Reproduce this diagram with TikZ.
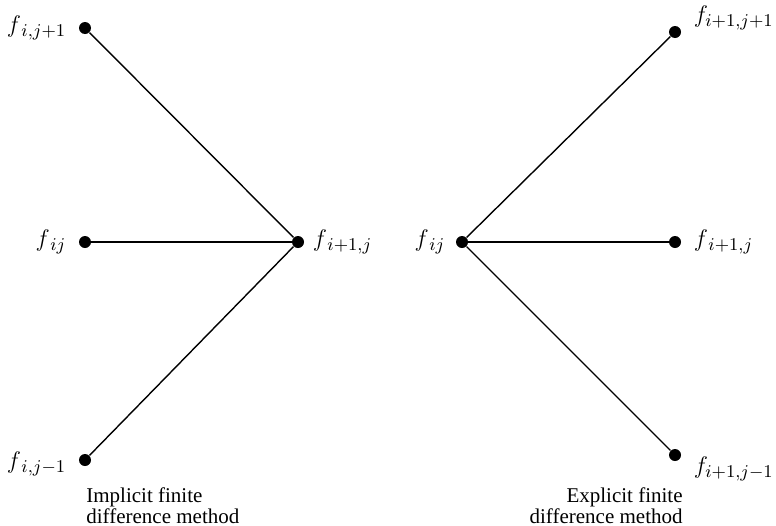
\documentclass[tikz,border=0pt]{standalone}
\usepackage{fontspec}
\setmainfont{Liberation Serif}
\usetikzlibrary{positioning}

\begin{document}
\begin{tikzpicture}[
    x=0.5pt, y=-0.5pt,
    dot/.style={circle, fill=black, inner sep=0pt, minimum size=6pt},
    lbl/.style={font=\fontsize{13}{15}\selectfont, inner sep=0pt},
    caption/.style={font=\fontsize{10.5}{9.5}\selectfont, inner sep=0pt},
    link/.style={line width=0.7pt}
]
\useasboundingbox (0,0) rectangle (776,525);

% implicit scheme
\node[dot] (a1) at (85,28) {};
\node[dot] (a0) at (85,242) {};
\node[dot] (am) at (85,460) {};
\node[dot] (b0) at (298,242) {};

\node[lbl, left=6pt of a1] {$f_{\,i,j+1}$};
\node[lbl, left=6pt of a0] {$f_{\,ij}$};
\node[lbl, left=6pt of am, yshift=-2pt] {$f_{\,i,j-1}$};
\node[lbl, right=4pt of b0] {$f_{\,i+1,j}$};

\draw[link] (a1) -- (b0);
\draw[link] (a0) -- (b0);
\draw[link] (am) -- (b0);

\node[caption, align=left, anchor=north west] (imp) at (86,487)
    {Implicit finite\\difference method};

% explicit scheme
\node[dot] (c0) at (462,242) {};
\node[dot] (d1) at (675,32) {};
\node[dot] (d0) at (675,242) {};
\node[dot] (dm) at (675,455) {};

\node[lbl, left=5pt of c0] {$f_{\,ij}$};
\node[lbl, right=6pt of d1, yshift=7pt] {$f_{i+1,j+1}$};
\node[lbl, right=6pt of d0] {$f_{\,i+1,j}$};
\node[lbl, right=6pt of dm, yshift=-7pt] {$f_{i+1,j-1}$};

\draw[link] (c0) -- (d1);
\draw[link] (c0) -- (d0);
\draw[link] (c0) -- (dm);

\node[caption, align=right, anchor=north east] (exp) at (683,487)
    {Explicit finite\\difference method};

\end{tikzpicture}
\end{document}
